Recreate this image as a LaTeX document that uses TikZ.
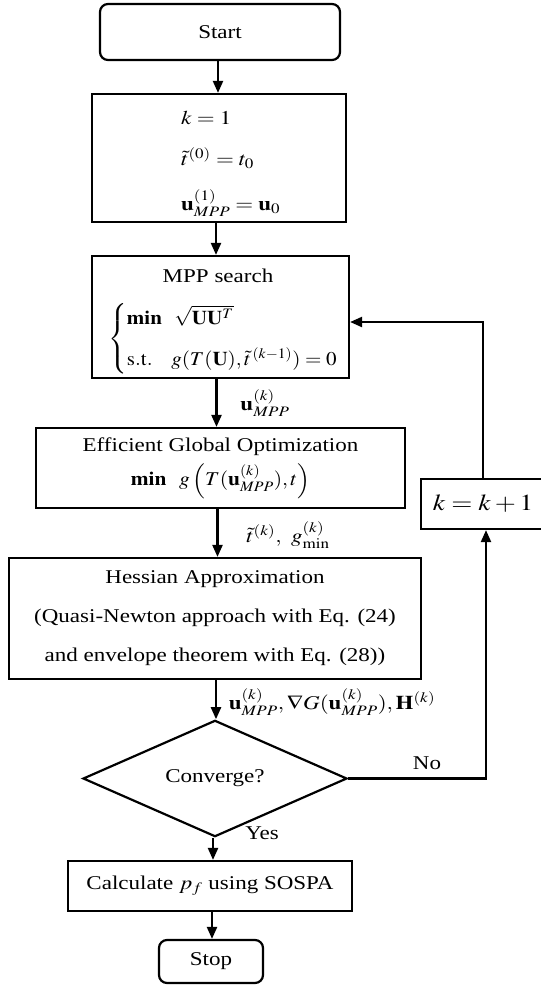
\documentclass[tikz,border=0pt]{standalone}
\usepackage{mathptmx}
\usepackage[no-math]{fontspec}
\setmainfont{Liberation Serif}[FakeStretch=1.18]
\usepackage{graphicx}
\usetikzlibrary{arrows.meta,shapes.geometric}
\newcommand{\sm}[2][1.18]{\scalebox{#1}[1]{$#2$}}
\tikzset{
  procbox/.style={draw,line width=2.2pt,inner sep=0pt,align=center,font=\fontsize{19.5}{24}\selectfont},
  termbox/.style={procbox,rounded corners=8pt},
  txt/.style={inner sep=0pt,font=\fontsize{19.5}{24}\selectfont},
  arr/.style={line width=2.2pt,-{Triangle[length=12pt,width=10pt]}}
}
\begin{document}
\begin{tikzpicture}[x=1pt,y=-1pt]
\useasboundingbox (0,0) rectangle (541,986);
% nodes
\node[termbox,minimum width=240pt,minimum height=56pt] (start) at (220,32) {Start};
\node[procbox,minimum width=254pt,minimum height=128pt] (init) at (219,158) {};
\node[txt,anchor=west] (i1) at (181,118) {\sm{k=1}};
\node[txt,anchor=west] (i2) at (181,158) {\sm{\tilde{t}^{(0)}=t_0}};
\node[txt,anchor=west] (i3) at (181,203) {\sm{\mathbf{u}_{MPP}^{(1)}=\mathbf{u}_0}};
\node[procbox,minimum width=257pt,minimum height=122pt] (mpp) at (220.5,317) {};
\node[txt] (m1) at (218,276) {MPP search};
\node[txt,anchor=west] (m2) at (108,339) {\sm[1.08]{\left\{\begin{array}{@{}l@{}}\mathbf{min}\ \ \sqrt{\mathbf{U}\mathbf{U}^T}\\[16pt] \mathrm{s.t.}\ \ \ g(T(\mathbf{U}),\tilde{t}^{\,(k-1)})=0\end{array}\right.}};
\node[procbox,minimum width=369pt,minimum height=80pt] (ego) at (220.5,468) {Efficient Global Optimization\\[7pt] \sm[1.1]{\mathbf{min}\ \ g\left(T(\mathbf{u}^{(k)}_{MPP}),t\right)}};
\node[procbox,minimum width=412pt,minimum height=121pt,font=\fontsize{19.5}{39}\selectfont] (hess) at (215,618.5) {Hessian Approximation\\(Quasi-Newton approach with Eq. (24)\\and envelope theorem with Eq. (28))};
\node[procbox,shape=diamond,minimum width=264pt,minimum height=93pt] (conv) at (215,778.5) {Converge?};
\node[procbox,minimum width=284pt,minimum height=50pt] (calc) at (210,886) {Calculate \sm{p_f} using SOSPA};
\node[termbox,minimum width=104pt,minimum height=43pt] (stop) at (211,961.5) {Stop};
\node[procbox,minimum width=124pt,minimum height=50pt,font=\fontsize{23}{28}\selectfont] (kb) at (483,504) {\scalebox{1.18}[1]{$k=k+1$}};
% labels
\node[txt] (l1) at (265,403) {\sm{\mathbf{u}_{MPP}^{(k)}}};
\node[txt] (l2) at (288,535) {\sm{\tilde{t}^{(k)},\ g_{\min}^{(k)}}};
\node[txt] (l3) at (332,702) {\sm{\mathbf{u}_{MPP}^{(k)},\nabla G(\mathbf{u}_{MPP}^{(k)}),\mathbf{H}^{(k)}}};
\node[txt] (no) at (427,763) {No};
\node[txt] (yes) at (262,833) {Yes};
% connectors
\draw[arr] ([xshift=-2pt]start.south) -- ([xshift=-2pt]start.south |- init.north);
\draw[arr] ([xshift=-3pt]init.south) -- ([xshift=-3pt]init.south |- mpp.north);
\draw[arr] ([xshift=-4pt]mpp.south) -- ([xshift=-4pt]mpp.south |- ego.north);
\draw[arr] ([xshift=-3pt]ego.south) -- ([xshift=-3pt]ego.south |- hess.north);
\draw[arr] ([xshift=1pt]hess.south) -- ([xshift=1pt]hess.south |- conv.north);
\draw[arr] ([xshift=-2pt]conv.south) -- ([xshift=-2pt]conv.south |- calc.north);
\draw[arr] ([xshift=2pt]calc.south) -- ([xshift=2pt]calc.south |- stop.north);
\draw[arr] (conv.east) -| ([xshift=3pt]kb.south);
\draw[arr] (kb.north) |- ([yshift=-5pt]mpp.east);
\end{tikzpicture}
\end{document}
